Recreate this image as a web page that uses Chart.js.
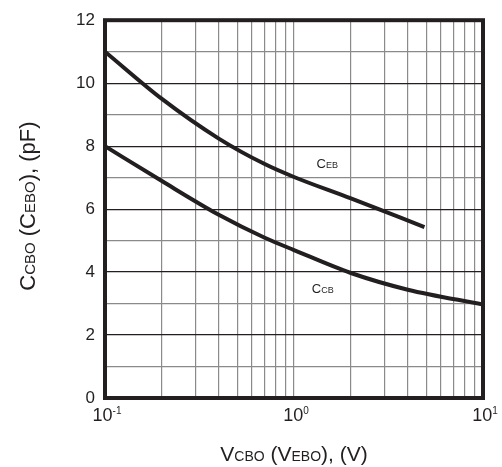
<!DOCTYPE html>
<html>
<head>
<meta charset="UTF-8">
<title>Capacitance vs reverse voltage</title>
<script src="https://cdn.jsdelivr.net/npm/chart.js"></script>
<style>
  body { margin: 0; background: #fff; }
  canvas { display: block; }
</style>
</head>
<body>
<canvas id="grafica" width="502" height="467"></canvas>
<script>
// curves
const vEb = [0.1, 0.2, 0.4, 0.7, 1, 2, 4.9];
const cEb = [11.0, 9.5, 8.24, 7.43, 7.02, 6.34, 5.43];
const vCb = [0.1, 0.2, 0.4, 0.7, 1, 2, 4, 10];
const cCb = [8.0, 6.89, 5.82, 5.09, 4.7, 3.97, 3.44, 2.97];

// grid and ticks
const xGrid = [0.1, 0.2, 0.3, 0.4, 0.5, 0.6, 0.7, 0.8, 0.9, 1, 2, 3, 4, 5, 6, 7, 8, 9, 10];
const xTickVals = [0.1, 1, 10];
const xTickExp = ['-1', '0', '1'];

// curve names inside the plot
const curveNames = [['C', 'EB'], ['C', 'CB']];
const curveLabelX = [1.5, 1.42];
const curveLabelY = [7.46, 3.49];

const FONT = '"Liberation Sans", Arial, sans-serif';
const INK = '#231f20';

// draws text made of [big, small, big, ...] pieces, small ones sitting on the baseline
function drawParts(ctx, parts, x, y, big, small, align) {
  const widths = parts.map((p, i) => {
    ctx.font = (i % 2 ? small : big) + 'px ' + FONT;
    return ctx.measureText(p).width;
  });
  const total = widths.reduce((a, b) => a + b, 0);
  let cx = align === 'center' ? x - total / 2 : x;
  ctx.textAlign = 'left';
  ctx.textBaseline = 'alphabetic';
  parts.forEach((p, i) => {
    ctx.font = (i % 2 ? small : big) + 'px ' + FONT;
    ctx.fillText(p, cx, y);
    cx += widths[i];
  });
}

const marcoYTextos = {
  id: 'marcoYTextos',
  afterDatasetsDraw(chart) {
    const ctx = chart.ctx;
    const a = chart.chartArea;
    const xs = chart.scales.x;
    const ys = chart.scales.y;
    ctx.save();
    // thick frame
    ctx.strokeStyle = INK;
    ctx.lineWidth = 4;
    ctx.strokeRect(a.left, a.top, a.right - a.left, a.bottom - a.top);

    ctx.fillStyle = INK;
    // x tick labels 10^n
    xTickVals.forEach((v, i) => {
      const px = xs.getPixelForValue(v);
      ctx.font = '18px ' + FONT;
      const w10 = ctx.measureText('10').width;
      ctx.font = '10px ' + FONT;
      const we = ctx.measureText(xTickExp[i]).width;
      const x0 = px - (w10 + we) / 2 + 2;
      ctx.textAlign = 'left';
      ctx.textBaseline = 'alphabetic';
      ctx.font = '18px ' + FONT;
      ctx.fillText('10', x0, a.bottom + 23);
      ctx.font = '10px ' + FONT;
      ctx.fillText(xTickExp[i], x0 + w10, a.bottom + 16);
    });

    // curve names
    curveNames.forEach((n, i) => {
      drawParts(ctx, n, xs.getPixelForValue(curveLabelX[i]), ys.getPixelForValue(curveLabelY[i]) + 5, 13, 9, 'center');
    });

    // axis titles
    drawParts(ctx, ['V', 'CBO', ' (V', 'EBO', '), (V)'], (a.left + a.right) / 2, a.bottom + 63, 21, 14, 'center');
    ctx.translate(35, (a.top + a.bottom) / 2 - 3);
    ctx.rotate(-Math.PI / 2);
    drawParts(ctx, ['C', 'CBO', ' (C', 'EBO', '), (pF)'], 0, 0, 22, 15, 'center');
    ctx.restore();
  }
};

const ctx = document.getElementById('grafica').getContext('2d');
const chart = new Chart(ctx, {
  type: 'scatter',
  data: {
    datasets: [{
      label: 'CEB',
      data: vEb.map((v, i) => ({ x: v, y: cEb[i] })),
      borderColor: INK,
      borderWidth: 4,
      pointRadius: 0,
      showLine: true,
      cubicInterpolationMode: 'monotone'
    }, {
      label: 'CCB',
      data: vCb.map((v, i) => ({ x: v, y: cCb[i] })),
      borderColor: INK,
      borderWidth: 4,
      pointRadius: 0,
      showLine: true,
      cubicInterpolationMode: 'monotone'
    }]
  },
  options: {
    responsive: false,
    animation: false,
    layout: { padding: { left: 0, right: 19, top: 20, bottom: 0 } },
    plugins: {
      legend: { display: false },
      tooltip: { enabled: false }
    },
    scales: {
      x: {
        type: 'logarithmic',
        min: 0.1,
        max: 10,
        afterBuildTicks: s => { s.ticks = xGrid.map(v => ({ value: v })); },
        afterFit: s => { s.height = 69; },
        border: { display: false },
        grid: { color: '#8a8a8a', lineWidth: 1.2, drawTicks: false },
        ticks: { autoSkip: false, callback: () => '' }
      },
      y: {
        min: 0,
        max: 12,
        afterFit: s => { s.width = 105; },
        border: { display: false },
        grid: {
          color: c => (c.tick && c.tick.value % 2 === 0 ? INK : '#8a8a8a'),
          lineWidth: 1.2,
          drawTicks: false
        },
        ticks: {
          stepSize: 1,
          autoSkip: false,
          padding: 10,
          color: INK,
          font: { family: FONT, size: 17 },
          callback: v => (v % 2 === 0 ? v : '')
        }
      }
    }
  },
  plugins: [marcoYTextos]
});
</script>
</body>
</html>
